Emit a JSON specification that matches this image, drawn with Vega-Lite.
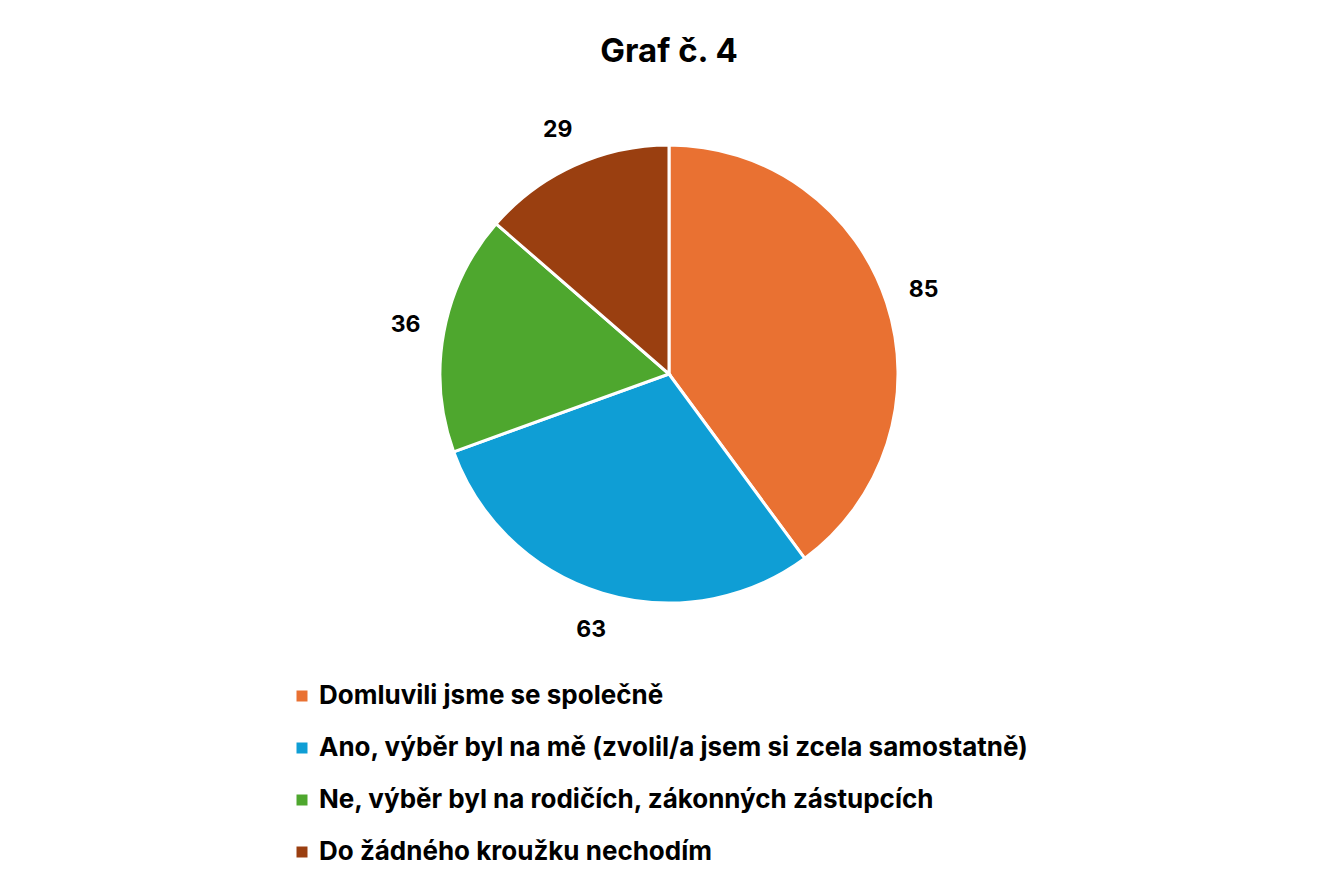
{
  "$schema": "https://vega.github.io/schema/vega-lite/v6.json",
  "autosize": "none",
  "width": 458,
  "height": 458,
  "padding": {"left": 440, "top": 145, "right": 443, "bottom": 281},
  "background": "white",
  "title": {
    "text": "Graf č. 4",
    "font": "Inter",
    "fontSize": 33,
    "fontWeight": "bold",
    "color": "#000000",
    "anchor": "middle",
    "frame": "group",
    "offset": 50
  },
  "data": {
    "values": [
      {"kategorie": "Domluvili jsme se společně", "pocet": 85, "poradi": 1},
      {"kategorie": "Ano, výběr byl na mě (zvolil/a jsem si zcela samostatně)", "pocet": 63, "poradi": 2},
      {"kategorie": "Ne, výběr byl na rodičích, zákonných zástupcích", "pocet": 36, "poradi": 3},
      {"kategorie": "Do žádného kroužku nechodím", "pocet": 29, "poradi": 4}
    ]
  },
  "encoding": {
    "theta": {"field": "pocet", "type": "quantitative", "stack": true},
    "order": {"field": "poradi", "type": "quantitative"}
  },
  "layer": [
    {
      "mark": {"type": "arc", "stroke": "white", "strokeWidth": 3},
      "encoding": {
        "color": {
          "field": "kategorie",
          "type": "nominal",
          "scale": {
            "domain": [
              "Domluvili jsme se společně",
              "Ano, výběr byl na mě (zvolil/a jsem si zcela samostatně)",
              "Ne, výběr byl na rodičích, zákonných zástupcích",
              "Do žádného kroužku nechodím"
            ],
            "range": ["#E97132", "#0F9ED5", "#4EA72E", "#9A3F10"]
          },
          "legend": {
            "title": null,
            "orient": "none",
            "legendX": -151,
            "legendY": 538,
            "symbolType": "square",
            "symbolSize": 121,
            "symbolStrokeWidth": 0,
            "labelFont": "Inter",
            "labelFontSize": 26,
            "labelFontWeight": "bold",
            "labelColor": "#000000",
            "labelLimit": 900,
            "labelOffset": 4,
            "rowPadding": 26
          }
        }
      }
    },
    {
      "mark": {"type": "text", "radius": 268, "font": "Inter", "fontSize": 23, "fontWeight": "bold", "color": "#000000"},
      "encoding": {
        "text": {"field": "pocet", "type": "quantitative"}
      }
    }
  ]
}
